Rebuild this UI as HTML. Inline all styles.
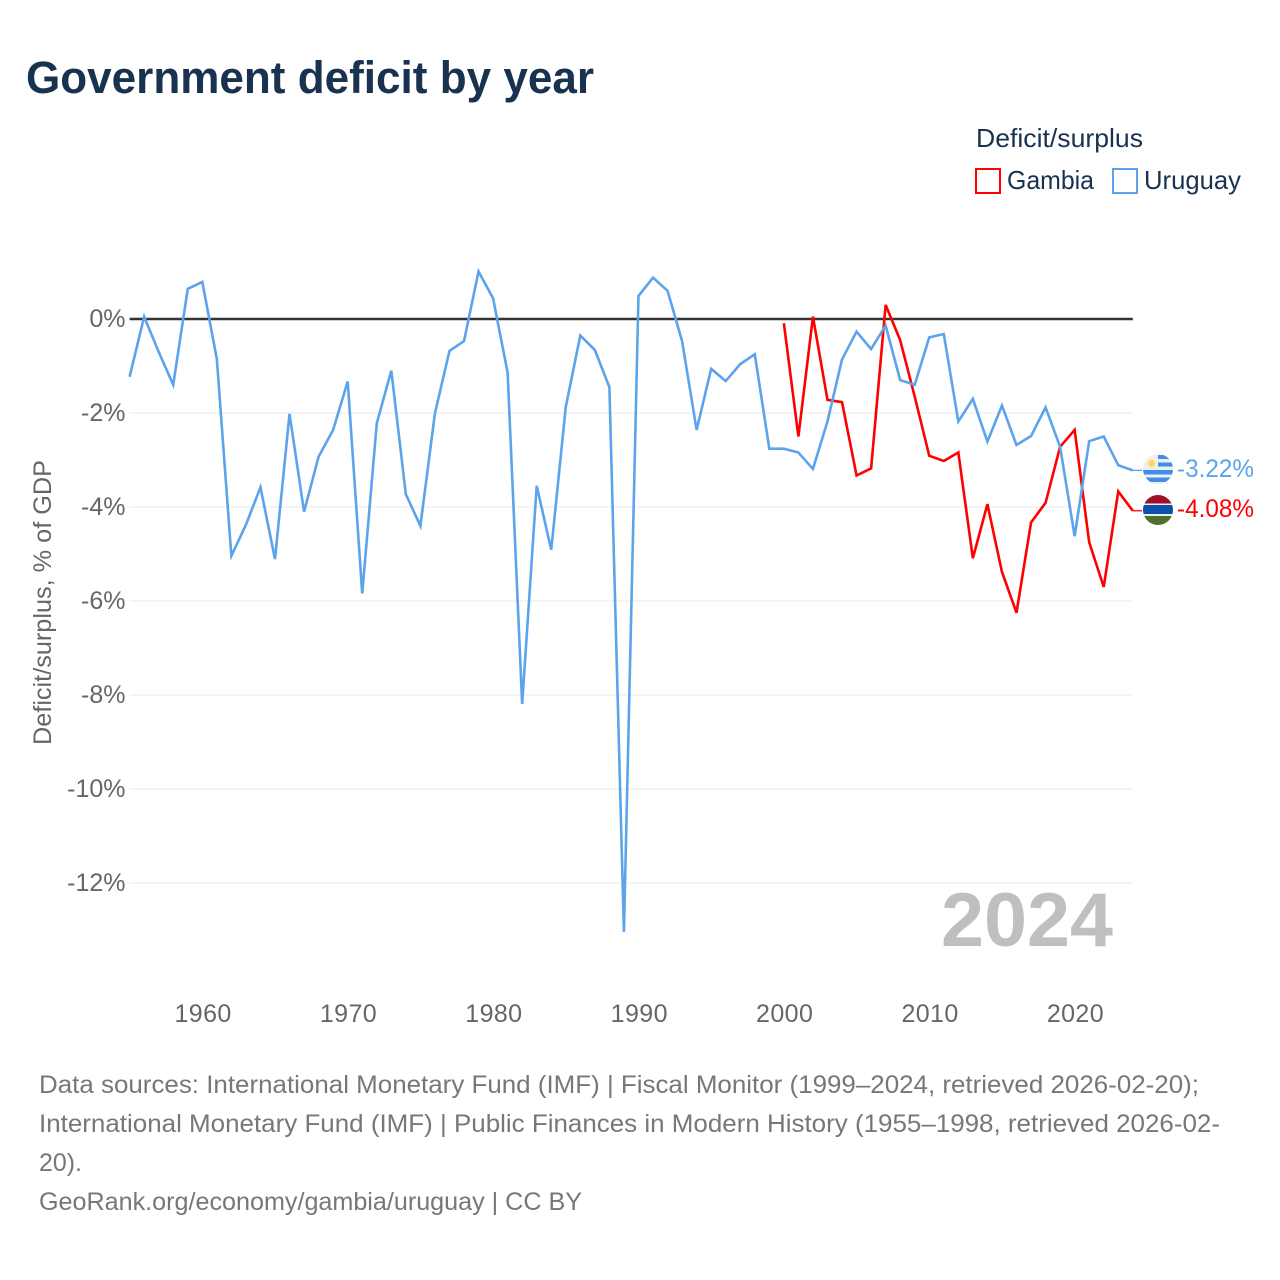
<!DOCTYPE html>
<html lang="en">
<head>
<meta charset="utf-8">
<title>Government deficit by year</title>
<style>
html,body{margin:0;padding:0;background:#fff;width:1280px;height:1280px;overflow:hidden}
svg{display:block;font-family:"Liberation Sans",sans-serif}
</style>
</head>
<body>
<svg id="chart" width="1280" height="1280" viewBox="0 0 1280 1280" xmlns="http://www.w3.org/2000/svg">
  <defs>
    <clipPath id="clip-uy"><circle cx="1158" cy="469" r="15"/></clipPath>
    <clipPath id="clip-gm"><circle cx="1158" cy="510" r="15"/></clipPath>
  </defs>
  <rect width="1280" height="1280" fill="#fff"/>
  <text x="26" y="93" font-size="45" font-weight="700" fill="#18324f" textLength="568" lengthAdjust="spacingAndGlyphs">Government deficit by year</text>

  <g>
    <text x="976" y="147" font-size="26" fill="#18324f" textLength="167" lengthAdjust="spacingAndGlyphs">Deficit/surplus</text>
    <g>
      <rect x="976" y="169" width="24" height="24" fill="none" stroke="#ff0000" stroke-width="2"/>
      <text x="1007" y="189" font-size="26" fill="#18324f" textLength="87" lengthAdjust="spacingAndGlyphs">Gambia</text>
    </g>
    <g>
      <rect x="1113" y="169" width="24" height="24" fill="none" stroke="#5ba4ec" stroke-width="2"/>
      <text x="1144" y="189" font-size="26" fill="#18324f" textLength="97" lengthAdjust="spacingAndGlyphs">Uruguay</text>
    </g>
  </g>

  <g id="grid"></g>
  <g id="y-axis"></g>
  <g id="x-axis"></g>
  <text transform="translate(51,745) rotate(-90)" x="0" y="0" font-size="25" fill="#666" textLength="285" lengthAdjust="spacingAndGlyphs">Deficit/surplus, % of GDP</text>

  <text x="941" y="946" font-size="76" font-weight="700" fill="#bfbfbf" textLength="172" lengthAdjust="spacingAndGlyphs">2024</text>

  <g id="series"></g>

  <g clip-path="url(#clip-uy)">
    <rect x="1143" y="454" width="30" height="30" fill="#eeeeee"/>
    <rect x="1158" y="455" width="15" height="4" fill="#3f8fe8"/>
    <rect x="1158" y="462.5" width="15" height="4" fill="#3f8fe8"/>
    <rect x="1143" y="470" width="30" height="4.5" fill="#3f8fe8"/>
    <rect x="1143" y="477.5" width="30" height="4.5" fill="#3f8fe8"/>
    <circle cx="1151.7" cy="463.3" r="3.6" fill="#fdd85d"/>
  </g>
  <g clip-path="url(#clip-gm)">
    <rect x="1143" y="495" width="30" height="30" fill="#eeeeee"/>
    <rect x="1143" y="495" width="30" height="8.5" fill="#a00f25"/>
    <rect x="1143" y="505" width="30" height="9" fill="#0c52ad"/>
    <rect x="1143" y="516" width="30" height="9" fill="#4f6f2f"/>
  </g>
  <text x="1177" y="477" font-size="25" fill="#5ba4ec" textLength="77" lengthAdjust="spacingAndGlyphs">-3.22%</text>
  <text x="1177" y="517" font-size="25" fill="#ff0000" textLength="77" lengthAdjust="spacingAndGlyphs">-4.08%</text>

  <g font-size="25" fill="#777">
    <text x="39" y="1093" textLength="1160" lengthAdjust="spacingAndGlyphs">Data sources: International Monetary Fund (IMF) | Fiscal Monitor (1999–2024, retrieved 2026-02-20);</text>
    <text x="39" y="1132" textLength="1181" lengthAdjust="spacingAndGlyphs">International Monetary Fund (IMF) | Public Finances in Modern History (1955–1998, retrieved 2026-02-</text>
    <text x="39" y="1171" textLength="43" lengthAdjust="spacingAndGlyphs">20).</text>
    <text x="39" y="1210" textLength="543" lengthAdjust="spacingAndGlyphs">GeoRank.org/economy/gambia/uruguay | CC BY</text>
  </g>
</svg>
<script>
const uruguayYears = [1955,1956,1957,1958,1959,1960,1961,1962,1963,1964,1965,1966,1967,1968,1969,1970,1971,1972,1973,1974,1975,1976,1977,1978,1979,1980,1981,1982,1983,1984,1985,1986,1987,1988,1989,1990,1991,1992,1993,1994,1995,1996,1997,1998,1999,2000,2001,2002,2003,2004,2005,2006,2007,2008,2009,2010,2011,2012,2013,2014,2015,2016,2017,2018,2019,2020,2021,2022,2023,2024];
const uruguayValues = [-1.23,0.05,-0.70,-1.40,0.64,0.79,-0.85,-5.04,-4.38,-3.58,-5.11,-2.02,-4.10,-2.93,-2.36,-1.33,-5.84,-2.22,-1.10,-3.73,-4.40,-2.01,-0.68,-0.47,1.01,0.44,-1.14,-8.19,-3.55,-4.91,-1.87,-0.35,-0.66,-1.45,-13.04,0.49,0.88,0.60,-0.47,-2.36,-1.06,-1.32,-0.96,-0.75,-2.76,-2.76,-2.84,-3.19,-2.18,-0.86,-0.27,-0.64,-0.14,-1.30,-1.40,-0.39,-0.32,-2.18,-1.70,-2.61,-1.84,-2.68,-2.49,-1.88,-2.72,-4.62,-2.60,-2.50,-3.11,-3.22];
const gambiaYears = [2000,2001,2002,2003,2004,2005,2006,2007,2008,2009,2010,2011,2012,2013,2014,2015,2016,2017,2018,2019,2020,2021,2022,2023,2024];
const gambiaValues = [-0.09,-2.50,0.05,-1.72,-1.77,-3.33,-3.18,0.30,-0.45,-1.65,-2.91,-3.02,-2.84,-5.09,-3.94,-5.38,-6.25,-4.33,-3.91,-2.72,-2.36,-4.75,-5.70,-3.67,-4.08];
const yTickValues = [0,-2,-4,-6,-8,-10,-12];
const yTickLabels = ['0%','-2%','-4%','-6%','-8%','-10%','-12%'];
const xTickValues = [1960,1970,1980,1990,2000,2010,2020];

const plotLeft = 129.6, plotRight = 1132.8, zeroY = 319, pxPerUnit = 47, connectorEnd = 1142;
const xDomainStart = 1955, xDomainEnd = 2024;
const SVG_NS = 'http://www.w3.org/2000/svg';

function xScale(year){ return plotLeft + (year - xDomainStart) * (plotRight - plotLeft) / (xDomainEnd - xDomainStart); }
function yScale(value){ return zeroY - value * pxPerUnit; }
function make(tag, attrs, parent){
  const el = document.createElementNS(SVG_NS, tag);
  for (const k in attrs) el.setAttribute(k, attrs[k]);
  parent.appendChild(el);
  return el;
}

const gridGroup = document.getElementById('grid');
const yAxisGroup = document.getElementById('y-axis');
const xAxisGroup = document.getElementById('x-axis');
const seriesGroup = document.getElementById('series');

yTickValues.forEach(function(v, i){
  if (v !== 0) {
    const line = make('line', {x1: plotLeft, x2: plotRight, y1: yScale(v), y2: yScale(v), stroke: '#e8e8e8', 'stroke-width': 1}, gridGroup);
    
    
  }
  const label = make('text', {x: 125.5, y: yScale(v) + 8, 'text-anchor': 'end', 'font-size': 25, fill: '#666'}, yAxisGroup);
  
  
  label.textContent = yTickLabels[i];
});

xTickValues.forEach(function(t){
  const label = make('text', {x: xScale(t) + 0.8, y: 1022, 'text-anchor': 'middle', 'font-size': 25, 'letter-spacing': 0.4, fill: '#666'}, xAxisGroup);
  
  
  label.textContent = String(t);
});

function drawSeries(name, years, values, color){
  const pts = years.map(function(y, i){ return xScale(y).toFixed(2) + ',' + yScale(values[i]).toFixed(2); }).join(' ');
  const path = make('polyline', {points: pts, fill: 'none', stroke: color, 'stroke-width': 2.6, 'stroke-linejoin': 'miter', 'stroke-miterlimit': 4}, seriesGroup);
  
  
  const lastX = xScale(years[years.length - 1]);
  const lastY = yScale(values[values.length - 1]);
  const conn = make('line', {x1: lastX, x2: connectorEnd, y1: lastY, y2: lastY, stroke: color, 'stroke-width': 1.3}, seriesGroup);
  
  
}

const zeroLine = make('line', {x1: plotLeft, x2: plotRight, y1: yScale(0), y2: yScale(0), stroke: '#333', 'stroke-width': 2.4}, seriesGroup);



drawSeries('gambia', gambiaYears, gambiaValues, '#ff0000');
drawSeries('uruguay', uruguayYears, uruguayValues, '#5ba4ec');
</script>
</body>
</html>
